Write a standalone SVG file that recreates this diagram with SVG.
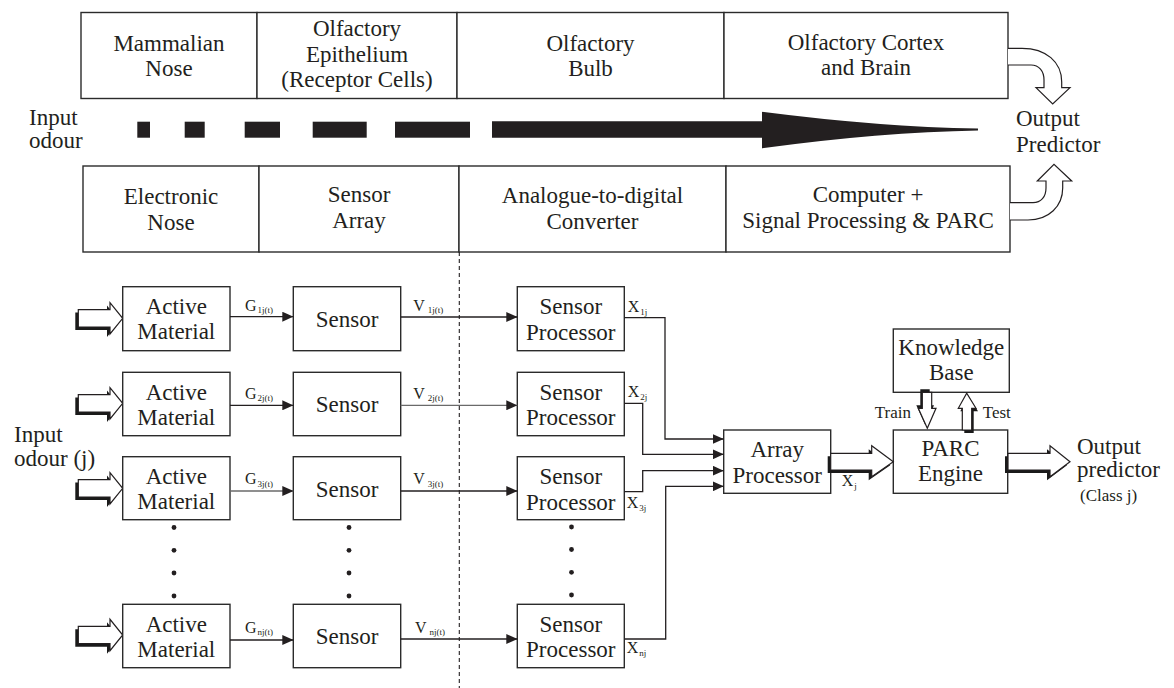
<svg xmlns="http://www.w3.org/2000/svg" width="1174" height="688" viewBox="0 0 1174 688" font-family="'Liberation Serif', 'DejaVu Serif', serif">
  <style>
    .bg { fill: #ffffff; }
    .box { fill: #ffffff; stroke: #2b2b2b; stroke-width: 1.4; }
    .t { font-family: 'Liberation Serif', 'DejaVu Serif', serif; font-size: 23px; fill: #231f20; }
    .c { text-anchor: middle; }
    .sm { font-family: 'Liberation Serif', 'DejaVu Serif', serif; font-size: 17px; fill: #231f20; }
    .lbl { font-family: 'Liberation Serif', 'DejaVu Serif', serif; font-size: 16px; fill: #231f20; }
    .sub { font-size: 9px; }
    .wire { fill: none; stroke: #231f20; stroke-width: 1.3; }
    .wire.grey { stroke: #6a6a6a; }
    .dash { fill: none; stroke: #231f20; stroke-width: 1.1; stroke-dasharray: 4 3; }
    .solid { fill: #231f20; }
    .blk { fill: #ffffff; stroke: #231f20; stroke-width: 1.2; stroke-linejoin: miter; }
    .shadow { fill: #1a1a1a; }
    .dot { fill: #231f20; }
  </style>
  <defs>
    <marker id="ah" markerWidth="11" markerHeight="10" refX="11" refY="5" orient="auto" markerUnits="userSpaceOnUse">
      <path d="M0,0 L11,5 L0,10 Z" fill="#231f20"/>
    </marker>
    <!-- small block arrow pointing right, tail at x=0, centred on y=0 -->
    <path id="blockR" d="M0,-8.7 H31.7 V-15.7 L44.4,0 L31.7,15.7 V8.7 H0 Z"/>
  </defs>

  <rect class="bg" x="0" y="0" width="1174" height="688"/>

  <!-- ===== Biological chain ===== -->
  <g id="mammalian-nose">
    <rect class="box" x="81" y="12.5" width="176" height="86"/>
    <text class="t c" x="169" y="51">Mammalian</text>
    <text class="t c" x="169" y="76">Nose</text>
  </g>
  <g id="olfactory-epithelium">
    <rect class="box" x="257" y="12.5" width="200" height="86"/>
    <text class="t c" x="357" y="36">Olfactory</text>
    <text class="t c" x="357" y="61.5">Epithelium</text>
    <text class="t c" x="357" y="87">(Receptor Cells)</text>
  </g>
  <g id="olfactory-bulb">
    <rect class="box" x="457" y="12.5" width="267" height="86"/>
    <text class="t c" x="590.5" y="50.5">Olfactory</text>
    <text class="t c" x="590.5" y="76">Bulb</text>
  </g>
  <g id="olfactory-cortex">
    <rect class="box" x="724" y="12.5" width="284" height="86"/>
    <text class="t c" x="866" y="50">Olfactory Cortex</text>
    <text class="t c" x="866" y="75">and Brain</text>
  </g>

  <!-- ===== Electronic chain ===== -->
  <g id="electronic-nose">
    <rect class="box" x="83" y="166" width="176" height="86"/>
    <text class="t c" x="171" y="204">Electronic</text>
    <text class="t c" x="171" y="230">Nose</text>
  </g>
  <g id="sensor-array">
    <rect class="box" x="259" y="166" width="200" height="86"/>
    <text class="t c" x="359" y="202">Sensor</text>
    <text class="t c" x="359" y="227.5">Array</text>
  </g>
  <g id="adc">
    <rect class="box" x="459" y="166" width="267" height="86"/>
    <text class="t c" x="592.5" y="203">Analogue-to-digital</text>
    <text class="t c" x="592.5" y="229">Converter</text>
  </g>
  <g id="computer">
    <rect class="box" x="726" y="166" width="284" height="86"/>
    <text class="t c" x="868" y="202">Computer +</text>
    <text class="t c" x="868" y="228">Signal Processing &amp; PARC</text>
  </g>

  <!-- input odour and the growing flow arrow -->
  <g id="input-odour-top">
    <text class="t" x="29" y="124.5">Input</text>
    <text class="t" x="29" y="148">odour</text>
  </g>
  <g id="flow-arrow">
    <rect class="solid" x="137.3" y="121.7" width="12.7" height="16"/>
    <rect class="solid" x="184.7" y="121.7" width="20" height="16"/>
    <rect class="solid" x="244.7" y="121.7" width="35.3" height="16"/>
    <rect class="solid" x="312.7" y="121.7" width="54" height="16"/>
    <rect class="solid" x="395" y="121.7" width="75" height="16"/>
    <path class="solid" d="M492,121.2 H762 V111.8 Q880,127 978,128.6 V130.4 Q880,132 762,148.2 V137.7 H492 Z"/>
  </g>

  <g id="output-predictor-top">
    <text class="t" x="1016" y="126">Output</text>
    <text class="t" x="1016" y="151.5">Predictor</text>
  </g>

  <!-- curved hollow arrows into the output -->
  <g id="curved-arrows">
    <path class="blk" d="M1008,48.3 H1022 C1046,48.3 1061.7,62 1061.7,82 V87.7 H1070 L1052.7,104 L1036,87.7 H1044 V80 C1044,71 1039,65 1031,65 H1008"/>
    <path class="blk" d="M1010,220 H1028 C1049,220 1062.7,206 1062.7,188 V181 H1071.7 L1054,164.3 L1037.3,181 H1046 V188 C1046,197 1041,202.7 1033,202.7 H1010"/>
  </g>

  <!-- boundary between sensing and processing -->
  <line class="dash" x1="459.3" y1="252" x2="459.3" y2="688"/>

  <!-- ===== Lower block diagram ===== -->
  <g id="input-odour-j">
    <text class="t" x="14" y="442">Input</text>
    <text class="t" x="14" y="466">odour (j)</text>
  </g>

  <!-- block input arrows -->
  <g id="input-arrows">
    <use href="#blockR" class="shadow" transform="translate(75.3,321.3)"/>
    <use href="#blockR" class="blk" transform="translate(78.3,318.3)"/>
    <use href="#blockR" class="shadow" transform="translate(75.3,406.3)"/>
    <use href="#blockR" class="blk" transform="translate(78.3,403.3)"/>
    <use href="#blockR" class="shadow" transform="translate(75.3,491.3)"/>
    <use href="#blockR" class="blk" transform="translate(78.3,488.3)"/>
    <use href="#blockR" class="shadow" transform="translate(75.3,638)"/>
    <use href="#blockR" class="blk" transform="translate(78.3,635)"/>
  </g>

  <g id="active-material-1">
    <rect class="box" x="122.7" y="286.7" width="107.3" height="64"/>
    <text class="t c" x="176.3" y="314.3">Active</text>
    <text class="t c" x="176.3" y="339.3">Material</text>
  </g>
  <g id="active-material-2">
    <rect class="box" x="122.7" y="372.3" width="107.3" height="63.4"/>
    <text class="t c" x="176.3" y="399.5">Active</text>
    <text class="t c" x="176.3" y="424.5">Material</text>
  </g>
  <g id="active-material-3">
    <rect class="box" x="122.7" y="456.7" width="107.3" height="63"/>
    <text class="t c" x="176.3" y="484">Active</text>
    <text class="t c" x="176.3" y="509">Material</text>
  </g>
  <g id="active-material-n">
    <rect class="box" x="122.7" y="604.3" width="107.3" height="63.4"/>
    <text class="t c" x="176.3" y="631.5">Active</text>
    <text class="t c" x="176.3" y="656.5">Material</text>
  </g>

  <g id="sensor-1">
    <rect class="box" x="293.3" y="286.7" width="107.4" height="64"/>
    <text class="t c" x="347" y="327">Sensor</text>
  </g>
  <g id="sensor-2">
    <rect class="box" x="293.3" y="372.3" width="107.4" height="63.4"/>
    <text class="t c" x="347" y="412">Sensor</text>
  </g>
  <g id="sensor-3">
    <rect class="box" x="293.3" y="456.7" width="107.4" height="63"/>
    <text class="t c" x="347" y="496.5">Sensor</text>
  </g>
  <g id="sensor-n">
    <rect class="box" x="293.3" y="604.3" width="107.4" height="63.4"/>
    <text class="t c" x="347" y="644">Sensor</text>
  </g>

  <g id="sensor-processor-1">
    <rect class="box" x="517.3" y="286.7" width="107" height="64"/>
    <text class="t c" x="570.8" y="314.3">Sensor</text>
    <text class="t c" x="570.8" y="340">Processor</text>
  </g>
  <g id="sensor-processor-2">
    <rect class="box" x="517.3" y="372.3" width="107" height="63.4"/>
    <text class="t c" x="570.8" y="399.5">Sensor</text>
    <text class="t c" x="570.8" y="425">Processor</text>
  </g>
  <g id="sensor-processor-3">
    <rect class="box" x="517.3" y="456.7" width="107" height="63"/>
    <text class="t c" x="570.8" y="484">Sensor</text>
    <text class="t c" x="570.8" y="509.5">Processor</text>
  </g>
  <g id="sensor-processor-n">
    <rect class="box" x="517.3" y="604.3" width="107" height="63.4"/>
    <text class="t c" x="570.8" y="631.5">Sensor</text>
    <text class="t c" x="570.8" y="657">Processor</text>
  </g>

  <!-- elided rows -->
  <g id="ellipsis">
    <circle class="dot" cx="174" cy="527.5" r="2.4"/>
    <circle class="dot" cx="174" cy="550.3" r="2.4"/>
    <circle class="dot" cx="174" cy="573" r="2.4"/>
    <circle class="dot" cx="174" cy="596" r="2.4"/>
    <circle class="dot" cx="349" cy="527.5" r="2.4"/>
    <circle class="dot" cx="349" cy="550.3" r="2.4"/>
    <circle class="dot" cx="349" cy="573" r="2.4"/>
    <circle class="dot" cx="349" cy="596" r="2.4"/>
    <circle class="dot" cx="571.5" cy="527" r="2.4"/>
    <circle class="dot" cx="571.5" cy="549.5" r="2.4"/>
    <circle class="dot" cx="571.5" cy="572.3" r="2.4"/>
    <circle class="dot" cx="571.5" cy="595" r="2.4"/>
  </g>

  <g id="array-processor">
    <rect class="box" x="723.7" y="430" width="107" height="63.3"/>
    <text class="t c" x="777.2" y="456.5">Array</text>
    <text class="t c" x="777.2" y="482.5">Processor</text>
  </g>
  <g id="knowledge-base">
    <rect class="box" x="893.3" y="329" width="116" height="63.3"/>
    <text class="t c" x="951.3" y="355">Knowledge</text>
    <text class="t c" x="951.3" y="380">Base</text>
  </g>
  <g id="parc-engine">
    <rect class="box" x="893.3" y="430" width="114.4" height="63.3"/>
    <text class="t c" x="950.5" y="456">PARC</text>
    <text class="t c" x="950.5" y="481">Engine</text>
  </g>

  <g id="output-predictor-j">
    <text class="t" x="1077" y="454">Output</text>
    <text class="t" x="1077" y="477">predictor</text>
    <text class="sm" x="1080" y="501">(Class j)</text>
  </g>

  <!-- ===== Connectors ===== -->
  <g id="connectors">
    <!-- active material to sensor -->
    <line class="wire" x1="230" y1="316.7" x2="293.3" y2="316.7" marker-end="url(#ah)"/>
    <line class="wire" x1="230" y1="405.3" x2="293.3" y2="405.3" marker-end="url(#ah)"/>
    <line class="wire grey" x1="230" y1="491" x2="293.3" y2="491" marker-end="url(#ah)"/>
    <line class="wire" x1="230" y1="640" x2="293.3" y2="640" marker-end="url(#ah)"/>
    <!-- sensor to sensor processor -->
    <line class="wire" x1="400.7" y1="317" x2="517.3" y2="317" marker-end="url(#ah)"/>
    <line class="wire grey" x1="400.7" y1="405.3" x2="517.3" y2="405.3" marker-end="url(#ah)"/>
    <line class="wire" x1="400.7" y1="491" x2="517.3" y2="491" marker-end="url(#ah)"/>
    <line class="wire" x1="400.7" y1="639" x2="517.3" y2="639" marker-end="url(#ah)"/>
    <!-- sensor processors to array processor -->
    <polyline class="wire" points="624.3,317.7 665,317.7 665,439 723.7,439" marker-end="url(#ah)"/>
    <polyline class="wire" points="624.3,403.3 642.7,403.3 642.7,454.3 723.7,454.3" marker-end="url(#ah)"/>
    <polyline class="wire" points="624.3,491.7 642.7,491.7 642.7,470.7 723.7,470.7" marker-end="url(#ah)"/>
    <polyline class="wire" points="624.3,639 665.7,639 665.7,486.3 723.7,486.3" marker-end="url(#ah)"/>

    <!-- array processor to PARC engine -->
    <path class="shadow" d="M827.7,456.3 H868.7 V449.2 L890.3,465.2 L868.7,480.2 V473 H827.7 Z"/>
    <path class="blk" d="M830.7,453.3 H871.7 V445.7 L893.3,461.7 L871.7,476.7 V470 H830.7 Z"/>
    <!-- PARC engine to output -->
    <path class="shadow" d="M1005,456.3 H1047 V449.2 L1067,465.2 L1047,480.2 V473 H1005 Z"/>
    <path class="blk" d="M1008,453.3 H1050 V445.7 L1070,461.7 L1050,476.7 V470 H1008 Z"/>

    <!-- train: knowledge base to PARC -->
    <path class="shadow" d="M920.3,389.3 V405.3 H916.3 L925.3,425.3 L934,405.3 H929.7 V389.3 Z"/>
    <path class="blk" d="M922.3,392.3 V408.3 H918.3 L927.3,428.3 L936,408.3 H931.7 V392.3 Z"/>
    <!-- test: PARC to knowledge base -->
    <path class="shadow" d="M964.3,433 V411.3 H960.3 L968.7,396.3 L978,411.3 H973.7 V433 Z"/>
    <path class="blk" d="M962.3,430 V408.3 H958.3 L966.7,393.3 L976,408.3 H971.7 V430 Z"/>
  </g>

  <!-- ===== Signal labels ===== -->
  <g id="signal-labels">
    <text class="lbl" x="245" y="310.7">G<tspan class="sub" dx="1" dy="2.5">1j(t)</tspan></text>
    <text class="lbl" x="245" y="398.7">G<tspan class="sub" dx="1" dy="2.5">2j(t)</tspan></text>
    <text class="lbl" x="245" y="484">G<tspan class="sub" dx="1" dy="2.5">3j(t)</tspan></text>
    <text class="lbl" x="245" y="632.7">G<tspan class="sub" dx="1" dy="2.5">nj(t)</tspan></text>

    <text class="lbl" x="413.3" y="310.7">V<tspan class="sub" dx="3" dy="2.5">1j(t)</tspan></text>
    <text class="lbl" x="413.3" y="398.7">V<tspan class="sub" dx="3" dy="2.5">2j(t)</tspan></text>
    <text class="lbl" x="413.3" y="484">V<tspan class="sub" dx="3" dy="2.5">3j(t)</tspan></text>
    <text class="lbl" x="415" y="632.7">V<tspan class="sub" dx="3" dy="2.5">nj(t)</tspan></text>

    <text class="lbl" x="627.7" y="311.7">X<tspan class="sub" dx="1" dy="3">1j</tspan></text>
    <text class="lbl" x="627.7" y="396.7">X<tspan class="sub" dx="1" dy="3">2j</tspan></text>
    <text class="lbl" x="626.7" y="508.3">X<tspan class="sub" dx="1" dy="3">3j</tspan></text>
    <text class="lbl" x="626.7" y="653.3">X<tspan class="sub" dx="1" dy="3">nj</tspan></text>

    <text class="lbl" x="841.7" y="486">X<tspan class="sub" dx="1" dy="3">j</tspan></text>

    <text class="sm" x="911" y="418.3" text-anchor="end">Train</text>
    <text class="sm" x="982.7" y="418.3">Test</text>
  </g>
</svg>
